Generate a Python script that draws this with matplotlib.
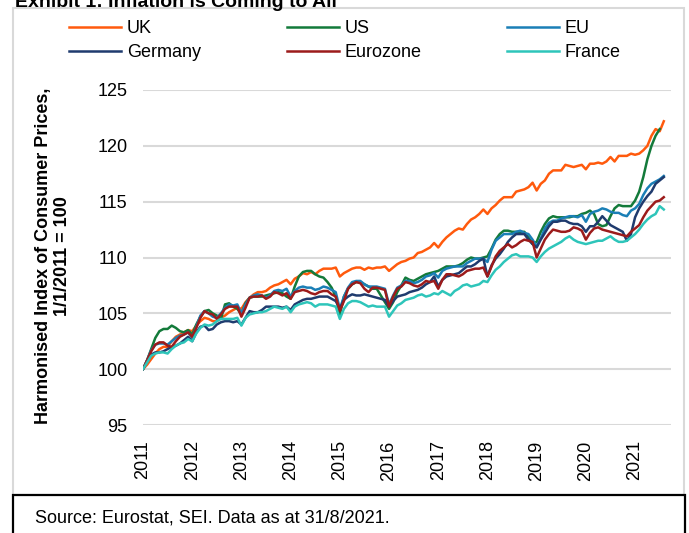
import numpy as np
import matplotlib
matplotlib.use("Agg")
import matplotlib.pyplot as plt
from matplotlib.patches import Rectangle

plt.rcParams['font.family'] = ['Liberation Sans', 'DejaVu Sans']

# monthly index, Jan 2011 = 100
uk = [100.0, 100.4, 100.9, 101.4, 101.8, 102.0, 102.0, 102.5, 102.9, 103.1, 103.3, 103.5,
      103.4, 103.9, 104.3, 104.6, 104.5, 104.3, 104.3, 104.6, 104.8, 105.1, 105.3, 105.5,
      105.4, 106.0, 106.4, 106.7, 106.9, 106.9, 107.0, 107.3, 107.5, 107.6, 107.8, 108.0,
      107.6, 108.1, 108.3, 108.6, 108.5, 108.7, 108.5, 108.8, 109.0, 109.0, 109.0, 109.1,
      108.3, 108.6, 108.8, 109.0, 109.1, 109.1, 108.9, 109.1, 109.0, 109.1, 109.1, 109.2,
      108.8, 109.1, 109.4, 109.6, 109.7, 109.9, 110.0, 110.4, 110.5, 110.7, 110.9, 111.3,
      110.9, 111.4, 111.8, 112.1, 112.4, 112.6, 112.5, 113.0, 113.4, 113.6, 113.9, 114.3,
      113.9, 114.4, 114.7, 115.1, 115.4, 115.4, 115.4, 115.9, 116.0, 116.1, 116.3, 116.7,
      116.0, 116.6, 116.9, 117.5, 117.8, 117.8, 117.8, 118.3, 118.2, 118.1, 118.2, 118.3,
      117.9, 118.4, 118.4, 118.5, 118.4, 118.6, 119.0, 118.6, 119.1, 119.1, 119.1, 119.3,
      119.2, 119.3, 119.6, 120.0, 120.9, 121.5, 121.3, 122.2]

us = [100.0, 100.8, 101.8, 102.8, 103.4, 103.6, 103.6, 103.9, 103.7, 103.4, 103.3, 103.5,
      103.1, 104.0, 104.7, 105.2, 105.3, 105.0, 104.8, 104.5, 105.8, 105.9, 105.6, 105.4,
      104.9, 105.9, 106.4, 106.5, 106.5, 106.5, 106.6, 106.7, 106.8, 106.9, 106.8, 106.5,
      106.3, 107.4, 108.3, 108.7, 108.8, 108.8, 108.5, 108.3, 108.2, 107.8, 107.3, 106.5,
      104.9, 106.5, 107.2, 107.6, 107.8, 107.8, 107.6, 107.4, 107.2, 107.2, 106.6, 106.0,
      105.4, 106.0, 106.9, 107.5, 108.2, 108.0, 107.9, 108.1, 108.3, 108.5, 108.6, 108.7,
      108.8, 109.0, 109.2, 109.2, 109.2, 109.3, 109.5, 109.8, 110.0, 109.9, 109.9, 110.0,
      110.1, 110.8, 111.6, 112.1, 112.4, 112.4, 112.3, 112.3, 112.3, 112.3, 111.8, 111.2,
      111.4, 112.3, 113.0, 113.5, 113.7, 113.6, 113.6, 113.6, 113.6, 113.7, 113.7, 113.9,
      114.0, 114.2, 113.9, 113.0, 112.8, 112.9, 113.7, 114.4, 114.7, 114.6, 114.6, 114.6,
      115.1, 115.9, 117.2, 118.8, 120.0, 120.9, 121.5]

eu = [100.0, 100.8, 101.7, 102.2, 102.3, 102.3, 102.2, 102.5, 102.8, 103.0, 103.1, 103.3,
      102.8, 103.8, 104.8, 105.2, 105.0, 104.7, 104.6, 105.0, 105.5, 105.8, 105.7, 105.8,
      105.0, 105.8, 106.4, 106.6, 106.7, 106.6, 106.4, 106.6, 107.0, 107.1, 107.0, 107.2,
      106.5, 107.0, 107.3, 107.4, 107.3, 107.3, 107.1, 107.2, 107.4, 107.3, 107.1, 106.9,
      105.4, 106.5, 107.3, 107.8, 107.9, 107.9, 107.6, 107.4, 107.4, 107.4, 107.3, 107.2,
      105.8, 106.6, 107.3, 107.5, 107.9, 107.9, 107.7, 107.8, 108.0, 108.3, 108.4, 108.6,
      108.2, 108.8, 109.0, 109.1, 109.2, 109.2, 109.2, 109.5, 109.7, 109.9, 109.9, 109.9,
      109.6, 110.7, 111.5, 111.8, 112.1, 112.1, 112.1, 112.3, 112.4, 112.2, 112.1, 111.6,
      111.0, 111.7, 112.6, 113.1, 113.3, 113.3, 113.5, 113.6, 113.7, 113.7, 113.6, 113.8,
      113.2, 113.9, 114.1, 114.2, 114.4, 114.3, 114.1, 114.0, 114.0, 113.8, 113.7, 114.2,
      114.4, 114.8, 115.6, 116.2, 116.6, 116.8, 117.0, 117.3]

germany = [100.0, 100.7, 101.3, 101.5, 101.5, 101.6, 101.8, 102.0, 102.1, 102.3, 102.6, 102.9,
           102.5, 103.3, 103.8, 103.9, 103.5, 103.6, 104.0, 104.2, 104.3, 104.3, 104.2, 104.3,
           104.0, 104.6, 105.2, 105.1, 105.1, 105.3, 105.6, 105.6, 105.6, 105.6, 105.5, 105.6,
           105.3, 105.8, 106.0, 106.2, 106.3, 106.3, 106.4, 106.5, 106.5, 106.5, 106.3, 106.1,
           105.4, 106.2, 106.5, 106.7, 106.6, 106.6, 106.7, 106.6, 106.5, 106.4, 106.3, 106.2,
           105.6, 106.1, 106.5, 106.6, 106.7, 106.9, 107.0, 107.1, 107.3, 107.6, 107.8, 108.3,
           107.4, 108.0, 108.3, 108.4, 108.5, 108.6, 108.9, 109.2, 109.2, 109.4, 109.7, 109.9,
           108.3, 109.3, 109.9, 110.3, 110.8, 111.4, 111.8, 112.1, 112.1, 112.1, 111.6, 111.2,
           110.9, 111.6, 112.2, 112.8, 113.2, 113.2, 113.3, 113.3, 113.1, 113.0, 113.0, 112.8,
           112.3, 112.8, 112.8, 113.2, 113.7, 113.3, 112.9, 112.7, 112.5, 112.3, 111.5, 112.1,
           113.6, 114.4, 115.0, 115.5, 115.9, 116.6, 116.9, 117.2]

eurozone = [100.0, 100.8, 101.6, 102.2, 102.4, 102.4, 102.1, 102.0, 102.5, 102.9, 103.1, 103.3,
            102.9, 103.7, 104.6, 105.2, 105.0, 104.9, 104.5, 104.9, 105.4, 105.6, 105.6, 105.6,
            104.7, 105.5, 106.4, 106.5, 106.5, 106.6, 106.3, 106.5, 106.9, 106.8, 106.6, 106.8,
            106.3, 106.9, 107.0, 107.1, 107.0, 106.8, 106.7, 106.9, 107.0, 107.0, 106.7, 106.5,
            105.2, 106.1, 107.2, 107.6, 107.8, 107.7, 107.2, 106.9, 107.3, 107.3, 107.2, 107.1,
            105.6, 106.5, 107.2, 107.4, 107.8, 107.7, 107.5, 107.4, 107.6, 107.9, 107.8, 107.9,
            107.2, 108.0, 108.5, 108.5, 108.4, 108.3, 108.5, 108.8, 108.9, 109.0, 109.0, 109.1,
            108.3, 109.2, 110.1, 110.6, 110.9, 111.2, 110.9, 111.1, 111.4, 111.6, 111.5, 111.4,
            110.0, 110.8, 111.6, 112.1, 112.5, 112.4, 112.3, 112.3, 112.4, 112.7, 112.6, 112.4,
            111.6, 112.2, 112.6, 112.7, 112.5, 112.4, 112.3, 112.2, 112.1, 112.0, 111.9, 112.3,
            112.6, 112.9, 113.6, 114.2, 114.6, 115.0, 115.1, 115.4]

france = [100.0, 100.6, 101.2, 101.4, 101.5, 101.5, 101.4, 101.8, 102.1, 102.3, 102.4, 102.7,
          102.5, 103.2, 103.7, 104.0, 103.9, 104.0, 104.3, 104.5, 104.5, 104.5, 104.5, 104.6,
          103.9, 104.6, 104.9, 105.0, 105.1, 105.1, 105.2, 105.4, 105.6, 105.5, 105.4, 105.6,
          105.1, 105.6, 105.8, 105.9, 106.0, 105.9, 105.6, 105.8, 105.8, 105.8, 105.7, 105.6,
          104.5, 105.4, 105.9, 106.1, 106.1, 106.0, 105.8, 105.6, 105.7, 105.6, 105.6, 105.6,
          104.7, 105.2, 105.7, 105.9, 106.2, 106.3, 106.4, 106.6, 106.7, 106.5, 106.6, 106.8,
          106.7, 107.0, 106.8, 106.6, 107.0, 107.2, 107.5, 107.6, 107.4, 107.5, 107.6, 107.9,
          107.8, 108.4, 108.9, 109.2, 109.6, 109.9, 110.2, 110.3, 110.1, 110.1, 110.1, 110.0,
          109.6, 110.1, 110.5, 110.8, 111.0, 111.2, 111.4, 111.7, 111.9, 111.6, 111.4, 111.3,
          111.2, 111.3, 111.4, 111.5, 111.5, 111.7, 111.9, 111.6, 111.4, 111.4, 111.5, 111.8,
          112.1, 112.5, 113.0, 113.4, 113.7, 113.9, 114.6, 114.3]

names = ['UK', 'US', 'EU', 'Germany', 'Eurozone', 'France']
series = [uk, us, eu, germany, eurozone, france]
colors = ['#ff5a0d', '#137a3a', '#1a7fb6', '#1f3b6e', '#9c1b1b', '#2ec5ba']
years = list(range(2011, 2022))


def months(vals):
    return 2011 + np.arange(len(vals)) / 12.0


def main():
    fig = plt.figure(figsize=(6.89, 5.33), dpi=100)
    W, H = 689, 533
    ax = fig.add_axes([143 / W, (H - 425) / H, (671 - 143) / W, (425 - 90) / H])

    lines = {}
    for name, vals, c in zip(names, series, colors):
        ln, = ax.plot(months(vals), vals, color=c, lw=1.8, label=name, solid_joinstyle='round')
        lines[name] = ln

    ax.set_xlim(2011, 2021.73)
    ax.set_ylim(95, 125)
    ax.set_yticks(range(95, 126, 5))
    ax.set_xticks(years)
    ax.set_xticklabels([str(y) for y in years], rotation=90, fontsize=13)
    ax.tick_params(axis='y', labelsize=13, length=0, pad=11)
    ax.tick_params(axis='x', length=0, pad=11)
    ax.yaxis.grid(True, color='#d9d9d9', lw=1.5)
    ax.set_axisbelow(True)
    for s in ax.spines.values():
        s.set_visible(False)

    fig.text(53 / W, (H - 256) / H, 'Harmonised Index of Consumer Prices,\n1/1/2011 = 100',
             rotation=90, ha='center', va='center', fontsize=13, fontweight='bold',
             multialignment='center', linespacing=1.1)

    order = ['UK', 'Germany', 'US', 'Eurozone', 'EU', 'France']
    fig.legend([lines[n] for n in order], order, ncol=3, loc='upper left',
               bbox_to_anchor=(69 / W, (H - 20) / H), frameon=False, fontsize=13,
               handlelength=2.9, handletextpad=0.3, columnspacing=4.75,
               labelspacing=0.41, borderpad=0, borderaxespad=0)

    fig.text(15 / W, (H - 7) / H, 'Exhibit 1: Inflation is Coming to All', fontsize=14,
             fontweight='bold', va='baseline', ha='left')

    fig.patches.append(Rectangle((13 / W, (H - 495) / H), (684 - 13) / W, (495 - 8) / H,
                                 transform=fig.transFigure, fill=False,
                                 edgecolor='#d9d9d9', lw=1.5))
    fig.patches.append(Rectangle((13 / W, -0.02), (685 - 13) / W, (H - 495) / H + 0.02,
                                 transform=fig.transFigure, fill=False,
                                 edgecolor='black', lw=1.6))
    fig.text(35 / W, (H - 518) / H, 'Source: Eurostat, SEI. Data as at 31/8/2021.',
             fontsize=13, va='center', ha='left')

    fig.savefig('out.png', dpi=100)


if __name__ == "__main__":
    main()
